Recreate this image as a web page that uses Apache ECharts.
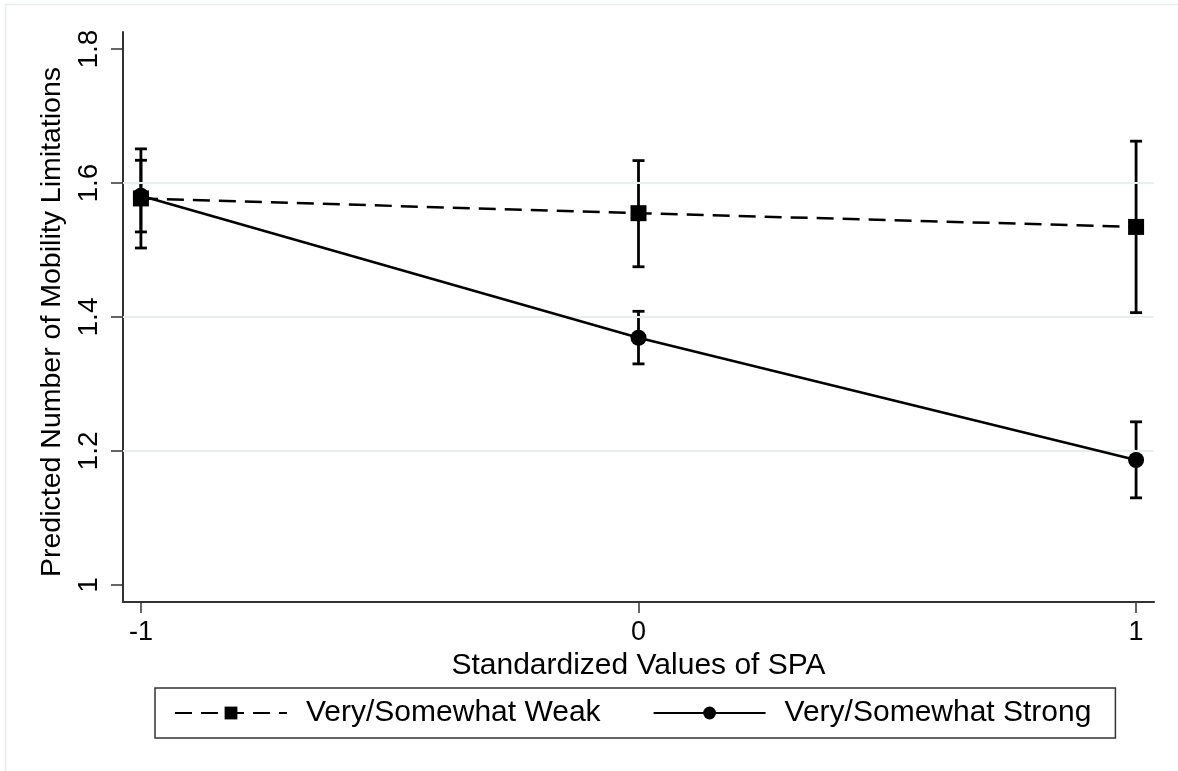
<!DOCTYPE html>
<html>
<head>
<meta charset="utf-8">
<title>Predicted Number of Mobility Limitations by SPA</title>
<script src="https://cdn.jsdelivr.net/npm/echarts@6/dist/echarts.min.js"></script>
<style>
  html, body { margin: 0; padding: 0; background: #ffffff; }
  #chart { width: 1178px; height: 771px; }
</style>
</head>
<body>
<div id="chart"></div>
<script>
// Standardized SPA values on the x axis
const spaValues = [-1, 0, 1];

// Predicted counts and 95% confidence limits, "Very/Somewhat Weak" group
const weakPred = [1.577, 1.555, 1.5345];
const weakLow  = [1.503, 1.475, 1.4065];
const weakHigh = [1.651, 1.6335, 1.6625];

// Predicted counts and 95% confidence limits, "Very/Somewhat Strong" group
const strongPred = [1.581, 1.369, 1.1865];
const strongLow  = [1.527, 1.330, 1.130];
const strongHigh = [1.634, 1.4085, 1.2435];

// Tick positions and horizontal reference lines
const xTicks = [-1, 0, 1];
const yTicks = [1, 1.2, 1.4, 1.6, 1.8];
const yGrid  = [1.2, 1.4, 1.6];

const seriesNames = ['Very/Somewhat Weak', 'Very/Somewhat Strong'];

const FONT = 'Arial, "Liberation Sans", Helvetica, sans-serif';

function pairs(xs, ys) { return xs.map((x, i) => [x, ys[i]]); }
function ciRows(xs, lo, hi) { return xs.map((x, i) => [x, lo[i], hi[i]]); }

// Vertical capped interval drawn through the chart's own coordinate system
function renderCI(params, api) {
  const x = api.value(0);
  const lo = api.coord([x, api.value(1)]);
  const hi = api.coord([x, api.value(2)]);
  const hw = 6;
  const st = { stroke: '#000', lineWidth: 2.8 };
  return {
    type: 'group',
    children: [
      { type: 'line', shape: { x1: lo[0], y1: lo[1], x2: hi[0], y2: hi[1] }, style: st },
      { type: 'line', shape: { x1: lo[0] - hw, y1: lo[1], x2: lo[0] + hw, y2: lo[1] }, style: st },
      { type: 'line', shape: { x1: hi[0] - hw, y1: hi[1], x2: hi[0] + hw, y2: hi[1] }, style: st }
    ]
  };
}

const chart = echarts.init(document.getElementById('chart'), null, { renderer: 'canvas' });

const option = {
  animation: false,
  backgroundColor: '#ffffff',
  textStyle: { fontFamily: FONT, color: '#000' },
  graphic: [
    {
      type: 'rect',
      silent: true,
      shape: { x: 5.5, y: 4.5, width: 1180, height: 780 },
      style: { fill: null, stroke: '#e6eeee', lineWidth: 1.5 }
    }
  ],
  grid: { left: 123, right: 24, top: 32, bottom: 169, containLabel: false },
  legend: {
    data: seriesNames,
    left: 155,
    top: 688,
    orient: 'horizontal',
    padding: [10, 24, 10, 19],
    itemWidth: 112,
    itemHeight: 16,
    itemGap: 52,
    borderColor: '#333',
    borderWidth: 1.5,
    textStyle: { fontFamily: FONT, fontSize: 30, color: '#000', padding: [0, 0, 0, 14] }
  },
  xAxis: {
    type: 'value',
    min: -1.036,
    max: 1.036,
    name: 'Standardized Values of SPA',
    nameLocation: 'middle',
    nameGap: 44,
    nameTextStyle: { fontFamily: FONT, fontSize: 30, color: '#000' },
    axisLine: { show: true, onZero: false, lineStyle: { color: '#333', width: 2 } },
    axisTick: { show: true, length: 11, customValues: xTicks, lineStyle: { color: '#333', width: 1.5 } },
    axisLabel: { customValues: xTicks, margin: 17, fontSize: 27, color: '#000', fontFamily: FONT },
    splitLine: { show: false }
  },
  yAxis: {
    type: 'value',
    min: 0.9745,
    max: 1.8255,
    name: 'Predicted Number of Mobility Limitations',
    nameLocation: 'middle',
    nameGap: 51,
    nameRotate: 90,
    nameTextStyle: { fontFamily: FONT, fontSize: 28.5, color: '#000', padding: [0, 10, 0, 0] },
    axisLine: { show: true, onZero: false, lineStyle: { color: '#333', width: 2 } },
    axisTick: { show: true, length: 12, customValues: yTicks, lineStyle: { color: '#333', width: 1.5 } },
    axisLabel: {
      customValues: yTicks,
      rotate: 90,
      margin: 20,
      fontSize: 28,
      color: '#000',
      fontFamily: FONT,
      formatter: v => String(+v.toFixed(2))
    },
    splitLine: { show: false }
  },
  series: [
    {
      name: 'grid',
      type: 'line',
      data: [],
      silent: true,
      z: 1,
      markLine: {
        silent: true,
        symbol: ['none', 'none'],
        label: { show: false },
        lineStyle: { color: '#e6eeee', width: 2, type: 'solid' },
        data: yGrid.map(v => ({ yAxis: v }))
      }
    },
    {
      name: 'ci-weak',
      type: 'custom',
      z: 3,
      data: ciRows(spaValues, weakLow, weakHigh),
      encode: { x: 0, y: [1, 2] },
      renderItem: renderCI
    },
    {
      name: 'ci-strong',
      type: 'custom',
      z: 3,
      data: ciRows(spaValues, strongLow, strongHigh),
      encode: { x: 0, y: [1, 2] },
      renderItem: renderCI
    },
    {
      name: seriesNames[0],
      type: 'line',
      z: 4,
      data: pairs(spaValues, weakPred),
      symbol: 'rect',
      symbolSize: 16,
      showAllSymbol: true,
      color: '#000',
      itemStyle: { color: '#000' },
      lineStyle: { color: '#000', width: 2.5, type: [17, 9] }
    },
    {
      name: seriesNames[1],
      type: 'line',
      z: 5,
      data: pairs(spaValues, strongPred),
      symbol: 'circle',
      symbolSize: 16,
      showAllSymbol: true,
      color: '#000',
      itemStyle: { color: '#000' },
      lineStyle: { color: '#000', width: 2.5, type: 'solid' }
    }
  ]
};

chart.setOption(option);
</script>
</body>
</html>
